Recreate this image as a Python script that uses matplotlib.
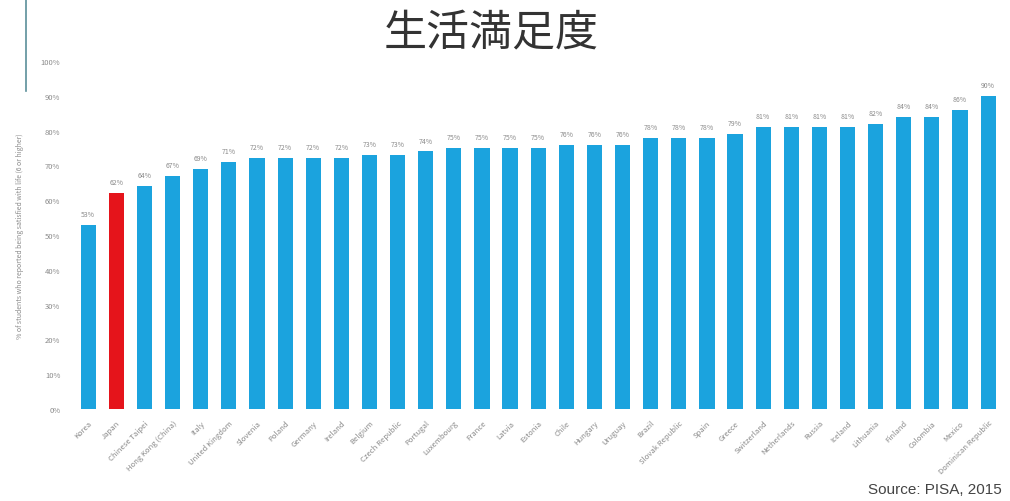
"""Life satisfaction bar chart (PISA 2015)."""

import matplotlib

matplotlib.use("Agg")

import matplotlib.pyplot as plt
from matplotlib.lines import Line2D


countries = [
    "Korea", "Japan", "Chinese Taipei", "Hong Kong (China)", "Italy",
    "United Kingdom", "Slovenia", "Poland", "Germany", "Ireland", "Belgium",
    "Czech Republic", "Portugal", "Luxembourg", "France", "Latvia", "Estonia",
    "Chile", "Hungary", "Uruguay", "Brazil", "Slovak Republic", "Spain",
    "Greece", "Switzerland", "Netherlands", "Russia", "Iceland", "Lithuania",
    "Finland", "Colombia", "Mexico", "Dominican Republic",
]
satisfied_pct = [
    53, 62, 64, 67, 69, 71, 72, 72, 72, 72, 73,
    73, 74, 75, 75, 75, 75, 76, 76, 76, 78, 78,
    78, 79, 81, 81, 81, 81, 82, 84, 84, 86, 90,
]
highlight = "Japan"
y_ticks = list(range(0, 101, 10))

BLUE = "#1ba3de"
RED = "#e5141b"
GREY = "#8a8a8a"


def main():
    plt.rcParams["font.family"] = ["Noto Sans CJK JP", "DejaVu Sans"]

    fig = plt.figure(figsize=(10.1, 5.02), dpi=100)
    ax = fig.add_axes([70 / 1010, 92 / 502, 935 / 1010, 348 / 502])

    x = list(range(len(countries)))
    colors = [RED if c == highlight else BLUE for c in countries]
    ax.bar(x, satisfied_pct, width=0.54, color=colors, zorder=2)

    for xi, v in zip(x, satisfied_pct):
        ax.annotate(f"{v}%", (xi, v), xytext=(0, 5), textcoords="offset points",
                    ha="center", va="bottom", fontsize=5, color=GREY)

    ax.set_xlim(-0.65, len(countries) - 0.4)
    ax.set_ylim(0, 100)
    ax.set_yticks(y_ticks)
    ax.set_yticklabels([f"{t}%" for t in y_ticks], fontsize=5.5, color=GREY)
    ax.set_xticks(x)
    ax.set_xticklabels(countries, rotation=45, ha="right", rotation_mode="anchor",
                       fontsize=5.5, color=GREY)
    ax.tick_params(length=0, pad=7)
    for s in ax.spines.values():
        s.set_visible(False)

    ax.set_ylabel("% of students who reported being satisfied with life (6 or higher)",
                  fontsize=5, color=GREY, labelpad=12)

    fig.text(491 / 1010, 1 - 33 / 502, "生活満足度", ha="center", va="center",
             fontsize=31, color="#333333")
    # source note runs off the right edge
    fig.text(868 / 1010, 1 - 490 / 502, "Source: PISA, 2015", ha="left",
             va="center", fontsize=11, color="#444444",
             family=["Liberation Sans", "DejaVu Sans"])
    fig.add_artist(Line2D([26 / 1010, 26 / 1010], [1, 1 - 92 / 502],
                          transform=fig.transFigure, color="#5b8f9a", lw=1.2))

    fig.savefig("out.png", dpi=100)


if __name__ == "__main__":
    main()
